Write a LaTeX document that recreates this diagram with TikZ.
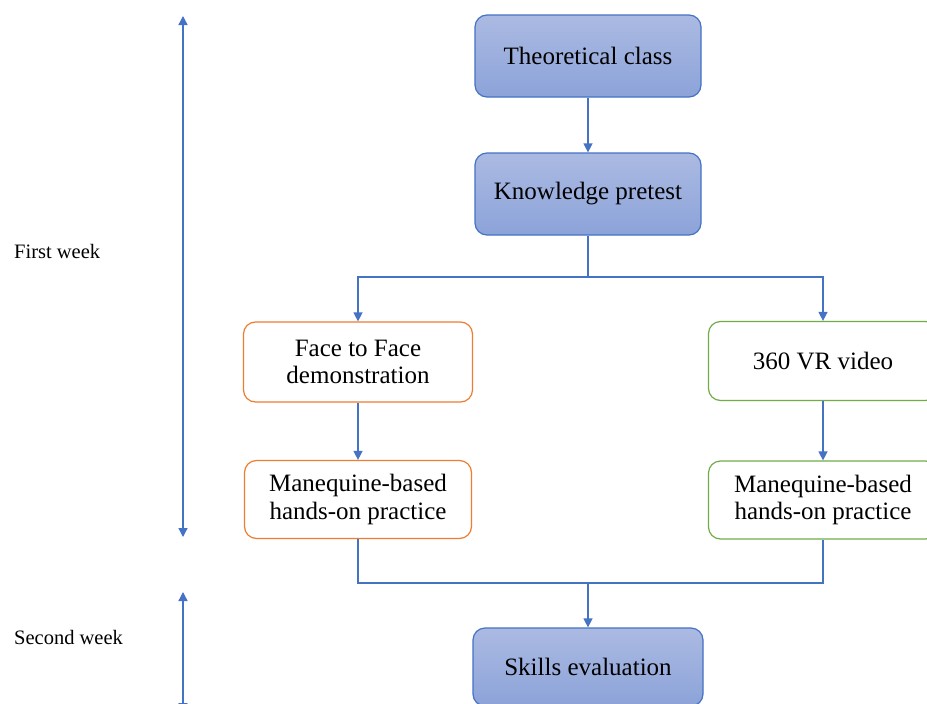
\documentclass[tikz,border=0pt]{standalone}
\usepackage{fontspec}
\setmainfont{Liberation Serif}
\usetikzlibrary{arrows.meta}
\definecolor{linkblue}{HTML}{4472C4}
\definecolor{boxtop}{HTML}{ABBAE2}
\definecolor{boxbot}{HTML}{8CA3D9}
\definecolor{orangeb}{HTML}{ED7D31}
\definecolor{greenb}{HTML}{70AD47}
\tikzset{
  boxbase/.style={rounded corners=12pt, align=center, inner sep=2pt,
    font=\fontsize{25}{27.5}\selectfont, line width=1.2pt},
  bluebox/.style={boxbase, draw=linkblue, top color=boxtop, bottom color=boxbot},
  orangebox/.style={boxbase, draw=orangeb, fill=white},
  greenbox/.style={boxbase, draw=greenb, fill=white},
  link/.style={draw=linkblue, line width=1.3pt},
  arr/.style={link, -{Triangle[length=9pt,width=9pt]}},
  dblarr/.style={link, {Triangle[length=9pt,width=9pt]}-{Triangle[length=9pt,width=9pt]}},
  weeklabel/.style={anchor=west, inner sep=0pt, font=\fontsize{20.5}{22}\selectfont}
}
\begin{document}
\begin{tikzpicture}[x=1pt,y=-1pt]
\clip (0,0) rectangle (927,704);
\fill[white] (0,0) rectangle (927,704);

\node[bluebox, minimum width=226pt, minimum height=82pt] (tc) at (588,56) {Theoretical class};
\node[bluebox, minimum width=226pt, minimum height=82pt] (kp) at (588,194) {Knowledge pretest};
\node[orangebox, minimum width=229pt, minimum height=80pt] (ff) at (358,362) {Face to Face\\demonstration};
\node[orangebox, minimum width=227pt, minimum height=78pt] (ml) at (358,499.5) {Manequine-based\\hands-on practice};
\node[greenbox, minimum width=229pt, minimum height=79pt] (vr) at (823,361) {360 VR video};
\node[greenbox, minimum width=229pt, minimum height=78pt] (mr) at (823,500) {Manequine-based\\hands-on practice};
\node[bluebox, minimum width=230pt, minimum height=78pt] (se) at (588,667) {Skills evaluation};

\coordinate (split) at (588,277);
\coordinate (merge) at (588,583);

\draw[arr] (tc.south) -- (kp.north);
\draw[link] (kp.south) -- (split);
\draw[arr] (split) -| (ff.north);
\draw[arr] (split) -| (vr.north);
\draw[arr] (ff.south) -- (ml.north);
\draw[arr] (vr.south) -- (mr.north);
\draw[link] (ml.south) |- (merge);
\draw[link] (mr.south) |- (merge);
\draw[arr] (merge) -- (se.north);

\coordinate (w1top) at (183,16);
\coordinate (w1bot) at (183,537);
\coordinate (w2top) at (183,592);
\coordinate (w2bot) at (183,712);
\draw[dblarr] (w1bot) -- (w1top);
\draw[dblarr] (w2bot) -- (w2top);

\node[weeklabel] (fw) at (14,251) {First week};
\node[weeklabel] (sw) at (14,637) {Second week};
\end{tikzpicture}
\end{document}
